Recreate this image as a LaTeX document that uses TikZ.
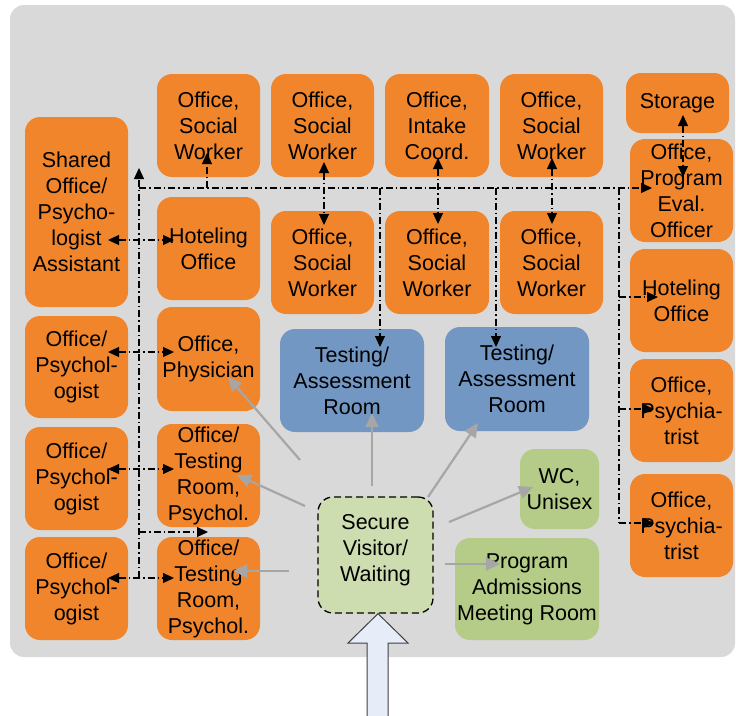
\documentclass[tikz,border=0pt]{standalone}
\usepackage{fontspec}
\setmainfont{Liberation Sans}
\usetikzlibrary{arrows.meta}
\definecolor{bg}{HTML}{D9D9D9}
\definecolor{orng}{HTML}{F0852B}
\definecolor{blu}{HTML}{7397C3}
\definecolor{grn}{HTML}{B5CC88}
\definecolor{lgrn}{HTML}{CEDDB0}
\definecolor{garr}{HTML}{A6A6A6}
\definecolor{barrowfill}{HTML}{E6EDF8}
\begin{document}
\begin{tikzpicture}[x=1pt,y=-1pt,
  room/.style={rounded corners=15pt, inner sep=0pt, align=center, font=\fontsize{21.5}{26}\selectfont},
  sz/.style 2 args={minimum width=#1pt, minimum height=#2pt},
  off/.style={room, fill=orng},
  test/.style={room, fill=blu},
  grn/.style={room, fill=grn},
  dd/.style={line width=1.1pt, dash pattern=on 7pt off 3pt on 1.5pt off 3pt, >={Triangle[length=11pt,width=10pt]}},
  ga/.style={draw=garr, line width=2.2pt, -{Triangle[length=14pt,width=13pt]}}
]
\useasboundingbox (0,0) rectangle (736,715);
\fill[bg, rounded corners=14pt] (10,5) rectangle (735,657);

% left column
\node[off,sz={103}{190}] (A1) at (76.5,212) {Shared\\Office/\\Psycho-\\logist\\Assistant};
\node[off,sz={103}{102}] (A2) at (76.5,367) {Office/\\Psychol-\\ogist};
\node[off,sz={103}{103}] (A3) at (76.5,478.5) {Office/\\Psychol-\\ogist};
\node[off,sz={103}{103}] (A4) at (76.5,588.5) {Office/\\Psychol-\\ogist};
% second column
\node[off,sz={103}{103}] (B1) at (208.5,125.5) {Office,\\Social\\Worker};
\node[off,sz={103}{103}] (B2) at (208.5,248.5) {Hoteling\\Office};
\node[off,sz={103}{104}] (B3) at (208.5,359) {Office,\\Physician};
\node[off,sz={103}{103}] (B4) at (208.5,475.5) {Office/\\Testing\\Room,\\Psychol.};
\node[off,sz={103}{103}] (B5) at (208.5,588.5) {Office/\\Testing\\Room,\\Psychol.};
% top rows
\node[off,sz={103}{103}] (C1) at (322.5,125.5) {Office,\\Social\\Worker};
\node[off,sz={103}{103}] (C2) at (322.5,262.5) {Office,\\Social\\Worker};
\node[off,sz={104}{103}] (D1) at (437,125.5) {Office,\\Intake\\Coord.};
\node[off,sz={104}{103}] (D2) at (437,262.5) {Office,\\Social\\Worker};
\node[off,sz={103}{103}] (E1) at (551.5,125.5) {Office,\\Social\\Worker};
\node[off,sz={103}{103}] (E2) at (551.5,262.5) {Office,\\Social\\Worker};
% right column
\node[off,sz={103}{60}] (F0) at (677.5,103) {Storage};
\node[off,sz={103}{103}] (F1) at (681.5,190.5) {Office,\\Program\\Eval.\\Officer};
\node[off,sz={103}{103}] (F2) at (681.5,300.5) {Hoteling\\Office};
\node[off,sz={103}{103}] (F3) at (681.5,410.5) {Office,\\Psychia-\\trist};
\node[off,sz={103}{103}] (F4) at (681.5,525.5) {Office,\\Psychia-\\trist};
% testing rooms
\node[test,sz={144}{103}] (T1) at (352,380.5) {Testing/\\Assessment\\Room};
\node[test,sz={144}{104}] (T2) at (517,379) {Testing/\\Assessment\\Room};
% green rooms
\node[grn,sz={79}{80}] (WC) at (559.5,489) {WC,\\Unisex};
\node[grn,sz={144}{102}] (PA) at (527,589) {Program\\Admissions\\Meeting Room};
\node[room,fill=lgrn,draw=black,line width=1.3pt,dash pattern=on 7pt off 4pt,sz={115}{116},text depth=14.5pt] (SV) at (375.5,555) {Secure\\Visitor/\\Waiting};

% entrance block arrow
\draw[draw=black!75, fill=barrowfill, line width=1pt]
  (367,720) -- (367,643) -- (348,643) -- (SV.south -| 378,0) -- (408,643) -- (388,643) -- (388,720);

% gray circulation arrows
\coordinate (g1) at (300,460); \coordinate (g1e) at (228,377);
\coordinate (g2) at (305,506); \coordinate (g2e) at (237,475);
\coordinate (g3) at (289,571); \coordinate (g3e) at (233,571);
\coordinate (g4) at (372,486); \coordinate (g4e) at (372,413);
\coordinate (g5) at (428,497); \coordinate (g5e) at (478,423);
\coordinate (g6) at (449,522); \coordinate (g6e) at (533,487);
\coordinate (g7) at (445,564); \coordinate (g7e) at (500,564);
\draw[ga] (g1) -- (g1e);
\draw[ga] (g2) -- (g2e);
\draw[ga] (g3) -- (g3e);
\draw[ga] (g4) -- (g4e);
\draw[ga] (g5) -- (g5e);
\draw[ga] (g6) -- (g6e);
\draw[ga] (g7) -- (g7e);

% dash-dot communication lines
\coordinate (vTop) at (139,168);
\coordinate (vBot) at (139,578);
\coordinate (busL) at (139,188);
\coordinate (busE) at (652,188);
\draw[dd,->] (vBot) -- (vTop);
\draw[dd,->] (busL) -- (busE);
\coordinate (a1) at (108,240); \coordinate (b2) at (174,240);
\coordinate (a2) at (108,352); \coordinate (b3) at (174,352);
\coordinate (a3) at (108,469); \coordinate (b4) at (174,469);
\coordinate (a4) at (108,578); \coordinate (b5) at (174,578);
\draw[dd,<->] (a1) -- (b2);
\draw[dd,<->] (a2) -- (b3);
\draw[dd,<->] (a3) -- (b4);
\draw[dd,<->] (a4) -- (b5);
\coordinate (k1) at (139,532); \coordinate (k1e) at (208,532);
\draw[dd,->] (k1) -- (k1e);
\coordinate (s1) at (207,188); \coordinate (s1e) at (207,153);
\draw[dd,->] (s1) -- (s1e);
\coordinate (c1) at (324,162); \coordinate (c2) at (324,225);
\coordinate (d1) at (438,158); \coordinate (d2) at (438,224);
\coordinate (e1) at (552,158); \coordinate (e2) at (552,224);
\coordinate (f0) at (683,115); \coordinate (f1) at (683,177);
\draw[dd,<->] (c1) -- (c2);
\draw[dd,<->] (d1) -- (d2);
\draw[dd,<->] (e1) -- (e2);
\draw[dd,<->] (f0) -- (f1);
\coordinate (t1s) at (380,188); \coordinate (t1e) at (380,347);
\coordinate (t2s) at (496,188); \coordinate (t2e) at (496,347);
\draw[dd,->] (t1s) -- (t1e);
\draw[dd,->] (t2s) -- (t2e);
\coordinate (rTop) at (619,188); \coordinate (rBot) at (619,523);
\draw[dd] (rTop) -- (rBot);
\coordinate (r2) at (619,297); \coordinate (r2e) at (658,297);
\coordinate (r3) at (619,409); \coordinate (r3e) at (654,409);
\coordinate (r4e) at (654,523);
\draw[dd,->] (r2) -- (r2e);
\draw[dd,->] (r3) -- (r3e);
\draw[dd,->] (rBot) -- (r4e);
\end{tikzpicture}
\end{document}
